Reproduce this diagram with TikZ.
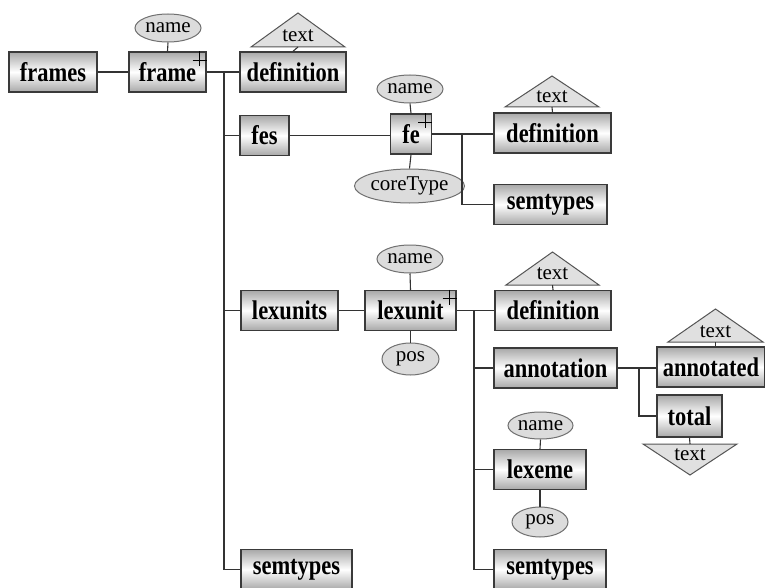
\documentclass[tikz,border=0pt]{standalone}
\usepackage{fontspec}
\usepackage{graphicx}
\setmainfont{Liberation Serif}
\usetikzlibrary{shapes.geometric}
\definecolor{edge}{HTML}{333333}
\definecolor{boxline}{HTML}{3A3A3A}
\definecolor{boxshade}{HTML}{A8A8A8}
\definecolor{attrfill}{HTML}{DCDCDC}
\definecolor{attrline}{HTML}{707070}
\definecolor{trifill}{HTML}{E0E0E0}
\definecolor{triline}{HTML}{555555}
\newcommand{\elname}[1]{\scalebox{1}[1.2]{\bfseries\fontsize{22.5}{22.5}\selectfont #1}}
\tikzset{
  elem/.style={draw=boxline, line width=1.4pt, rectangle, minimum height=40pt,
    inner sep=0pt, top color=boxshade, bottom color=boxshade, middle color=white},
  attr/.style={draw=attrline, line width=1pt, ellipse, fill=attrfill, inner sep=0pt,
    font=\fontsize{21}{21}\selectfont},
  tri/.style={draw=triline, line width=1pt, fill=trifill, line join=miter},
  tritext/.style={inner sep=0pt, font=\fontsize{21}{21}\selectfont},
  conn/.style={draw=edge, line width=1.1pt},
  plusmark/.style={draw=black, line width=1pt}
}
\begin{document}
\begin{tikzpicture}[x=1pt,y=-1pt]
\useasboundingbox (0,0) rectangle (765,588);
\clip (0,0) rectangle (765,588);
\fill[white] (0,0) rectangle (765,588);

% element boxes
\node[elem, minimum width=88pt]  (frames)    at (53,72)      {\elname{frames}};
\node[elem, minimum width=77pt]  (frame)     at (167.5,72)   {\elname{frame}};
\node[elem, minimum width=106pt] (def1)      at (293,72)     {\elname{definition}};
\node[elem, minimum width=49pt]  (fes)       at (264.5,135.5){\elname{fes}};
\node[elem, minimum width=41pt]  (fe)        at (411,134)    {\elname{fe}};
\node[elem, minimum width=117pt] (def2)      at (552.5,133)  {\elname{definition}};
\node[elem, minimum width=113pt] (sem2)      at (550.5,204.5){\elname{semtypes}};
\node[elem, minimum width=97pt]  (lexunits)  at (289.5,310.5){\elname{lexunits}};
\node[elem, minimum width=91pt]  (lexunit)   at (410.5,310.5){\elname{lexunit}};
\node[elem, minimum width=116pt] (def3)      at (553,310.5)  {\elname{definition}};
\node[elem, minimum width=123pt] (annot)     at (555.5,368)  {\elname{annotation}};
\node[elem, minimum width=108pt] (annotated) at (711,367)    {\elname{annotated}};
\node[elem, minimum width=65pt, minimum height=42pt] (total) at (689.5,416) {\elname{total}};
\node[elem, minimum width=92pt]  (lexeme)    at (540,469.5)  {\elname{lexeme}};
\node[elem, minimum width=112pt] (sem3)      at (550,569.5)  {\elname{semtypes}};
\node[elem, minimum width=111pt] (sem1)      at (296.5,569.5){\elname{semtypes}};

% attributes
\node[attr, minimum width=66pt, minimum height=28pt] (n1)   at (168,28)    {name};
\node[attr, minimum width=66pt, minimum height=28pt] (n2)   at (410,89)    {name};
\node[attr, minimum width=92pt, minimum height=34pt] (core) at (409.5,186) {coreType};
\node[attr, minimum width=66pt, minimum height=28pt] (n3)   at (410,259)   {name};
\node[attr, minimum width=57pt, minimum height=32pt] (pos1) at (410.5,359) {pos};
\node[attr, minimum width=65pt, minimum height=27pt] (n4)   at (540.5,425.5) {name};
\node[attr, minimum width=56pt, minimum height=30pt] (pos2) at (540,522)   {pos};

% text-content triangles
\draw[tri] (251,47) -- (345,47) -- (298,13) -- cycle;
\coordinate (t1) at (298,47);
\node[tritext] (t1l) at (298,36) {text};
\draw[tri] (505,107) -- (599,107) -- (552,76) -- cycle;
\coordinate (t2) at (552,107);
\node[tritext] (t2l) at (552,97) {text};
\draw[tri] (506,285) -- (599,285) -- (552.5,252) -- cycle;
\coordinate (t3) at (552.5,285);
\node[tritext] (t3l) at (552.5,274) {text};
\draw[tri] (668,342) -- (763,342) -- (715.5,309) -- cycle;
\coordinate (t4) at (715.5,342);
\node[tritext] (t4l) at (715.5,332) {text};
\draw[tri] (643,444) -- (737,444) -- (690,475) -- cycle;
\coordinate (t5) at (690,444);
\node[tritext] (t5l) at (690,455) {text};

% connectors
\coordinate (trunk) at (224,72);
\coordinate (bfe) at (462,134);
\coordinate (blu) at (474,310.5);
\coordinate (ban) at (639,368);

\draw[conn] (frames.east) -- (frame.west);
\draw[conn] (frame.east) -- (def1.west);
\draw[conn] (trunk) |- (fes.west);
\draw[conn] (trunk) |- (lexunits.west);
\draw[conn] (trunk) |- (sem1.west);
\draw[conn] (fes.east) -- (fes.east -| fe.west);
\draw[conn] (fe.east) -- (fe.east -| def2.west);
\draw[conn] (bfe) |- (sem2.west);
\draw[conn] (lexunits.east) -- (lexunit.west);
\draw[conn] (lexunit.east) -- (def3.west);
\draw[conn] (blu) |- (annot.west);
\draw[conn] (blu) |- (lexeme.west);
\draw[conn] (blu) |- (sem3.west);
\draw[conn] (annot.east) -- (annot.east -| annotated.west);
\draw[conn] (ban) |- (total.west);

\draw[conn] (n1.south) -- (frame.north);
\draw[conn] (n2.south) -- (fe.north);
\draw[conn] (fe.south) -- (core.north);
\draw[conn] (n3.south) -- (lexunit.north);
\draw[conn] (lexunit.south) -- (pos1.north);
\draw[conn] (n4.south) -- (lexeme.north);
\draw[conn] (lexeme.south) -- (pos2.north);
\draw[conn] (t1) -- (def1.north);
\draw[conn] (t2) -- (def2.north);
\draw[conn] (t3) -- (def3.north);
\draw[conn] (t4) -- (t4 |- annotated.north);
\draw[conn] (total.south) -- (t5);

% repeatable-element markers
\foreach \b in {frame, fe, lexunit}{
  \draw[plusmark] (\b.north east) ++(-7,0) -- ++(0,15);
  \draw[plusmark] (\b.north east) ++(-14,9) -- ++(14,0);
}
\end{tikzpicture}
\end{document}
